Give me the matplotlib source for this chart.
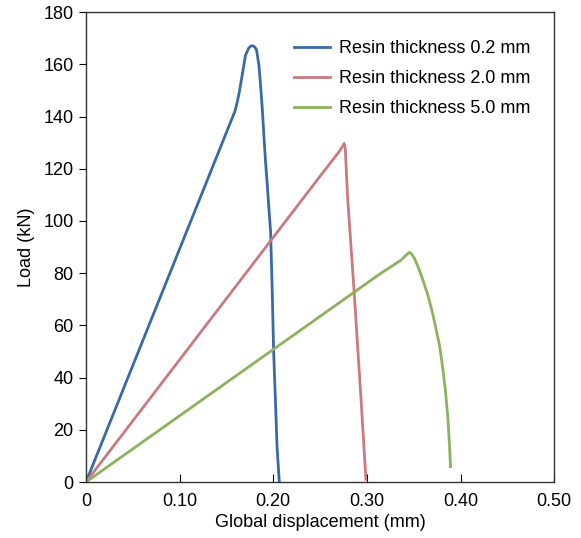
import numpy as np
import matplotlib
matplotlib.use("Agg")
import matplotlib.pyplot as plt

plt.rcParams['font.family'] = ['Liberation Sans', 'DejaVu Sans']

# load-displacement curves
disp_02 = [0.0, 0.1590, 0.1615, 0.1640, 0.1668, 0.1703, 0.1739, 0.1760, 0.1782, 0.1802,
           0.1821, 0.1846, 0.1864, 0.1882, 0.1899, 0.1917, 0.1936, 0.1953, 0.1971,
           0.1988, 0.2003, 0.2022, 0.2040, 0.2064]
load_02 = [0.0, 142.0, 145.5, 150.0, 155.9, 163.5, 166.3, 167.0, 167.1, 166.6,
           165.5, 159.7, 152.0, 143.1, 132.9, 122.7, 113.7, 104.8, 95.9,
           74.0, 50.6, 32.0, 13.5, 0.0]

disp_20 = [0.0, 0.2507, 0.270, 0.2745, 0.2757, 0.2768, 0.2793, 0.2864, 0.2935, 0.2989]
load_20 = [0.0, 117.5, 126.4, 128.9, 129.7, 128.0, 109.3, 72.3, 32.7, 1.0]

disp_50 = [0.0, 0.315, 0.3364, 0.342, 0.3453, 0.3478, 0.3506, 0.3542, 0.3578, 0.3614,
           0.3650, 0.3686, 0.3721, 0.3774, 0.3810, 0.3839, 0.3864, 0.3881, 0.3892]
load_50 = [0.0, 80.0, 85.0, 87.0, 88.0, 87.3, 85.7, 82.8, 79.3, 75.6,
           71.6, 66.8, 61.4, 52.5, 43.5, 34.6, 24.4, 14.2, 5.9]

labels = ['Resin thickness 0.2 mm', 'Resin thickness 2.0 mm', 'Resin thickness 5.0 mm']
colors = ['#3a6aa6', '#c97a7f', '#8db25c']

fig = plt.figure(figsize=(5.81, 5.38), dpi=100)
ax = fig.add_axes([0.148, 0.104, 0.806, 0.8735])

for x, y, lab, c in zip([disp_02, disp_20, disp_50], [load_02, load_20, load_50], labels, colors):
    ax.plot(x, y, color=c, lw=2.0, label=lab, solid_joinstyle='round')

ax.set_xlim(0, 0.5)
ax.set_ylim(0, 180)
ax.set_xticks(np.arange(0, 0.51, 0.1))
ax.set_xticklabels(['0', '0.10', '0.20', '0.30', '0.40', '0.50'])
ax.set_yticks(np.arange(0, 181, 20))
ax.tick_params(axis='x', direction='in', length=6, labelsize=13, pad=8)
ax.tick_params(axis='y', direction='out', length=5, labelsize=13, pad=4)
for s in ax.spines.values():
    s.set_linewidth(1.0)
    s.set_color('#333333')

ax.set_xlabel('Global displacement (mm)', fontsize=13, labelpad=3)
ax.set_ylabel('Load (kN)', fontsize=13, labelpad=6)

ax.legend(loc='upper left', bbox_to_anchor=(0.41, 0.975), frameon=False, fontsize=13,
          handlelength=2.0, handletextpad=0.5, labelspacing=0.72)

fig.savefig('out.png', dpi=100)
